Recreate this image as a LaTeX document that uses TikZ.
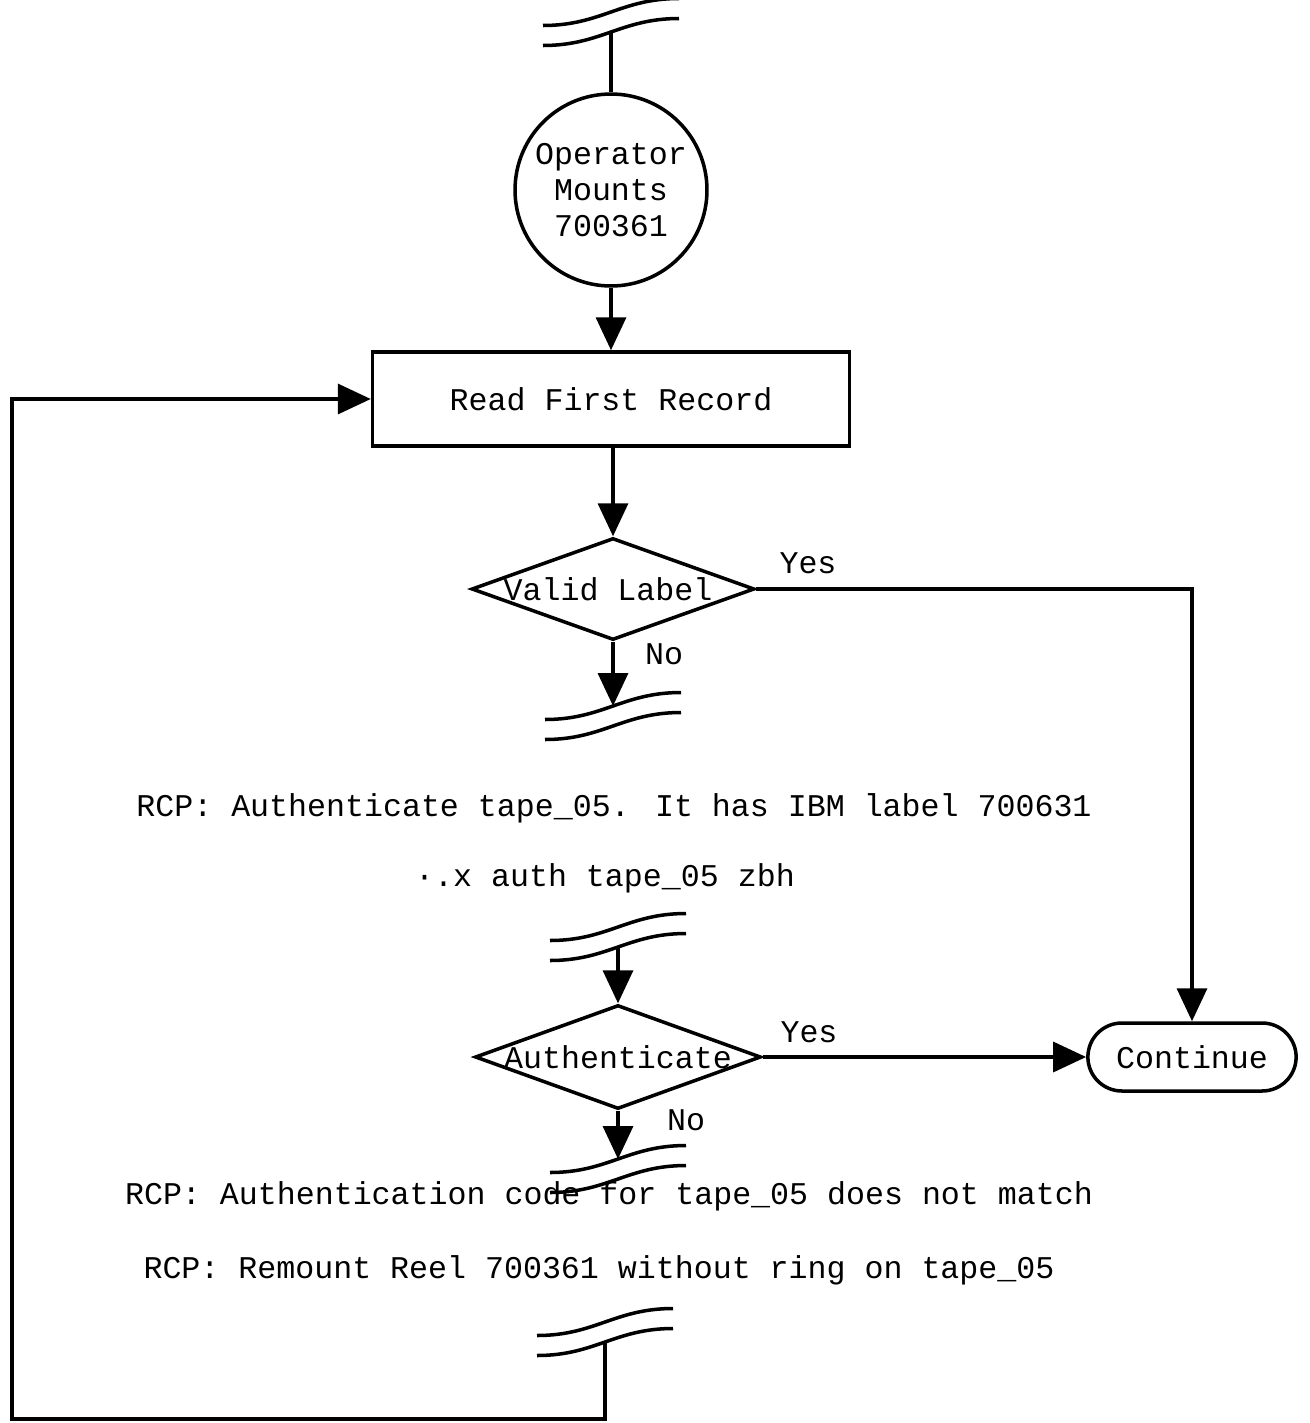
\documentclass[tikz,border=0pt]{standalone}
\usepackage{fontspec}
\newfontfamily\tapefont{Liberation Mono}
\usetikzlibrary{arrows.meta,shapes.geometric,shapes.misc}

\begin{document}
\begin{tikzpicture}[x=0.02cm, y=-0.02cm, line width=2pt,
		every node/.style={font=\tapefont\fontsize{18}{20.5}\selectfont},
		flow/.style={-{Triangle[length=0.66cm,width=0.6cm]}},
		startnode/.style={draw, circle, minimum size=3.84cm, inner sep=0pt, align=center},
		procbox/.style={draw, rectangle, minimum width=9.54cm, minimum height=1.88cm},
		decision/.style={draw, diamond, inner sep=0pt},
		endbox/.style={draw, rounded rectangle, minimum width=4.4cm, minimum height=1.36cm},
		pics/tapebreak/.style={code={
				\draw (-68,3.5) .. controls (-10,3.5) and (10,-23.5) .. (68,-23.5);
				\draw (-68,23.5) .. controls (-10,23.5) and (10,-3.5) .. (68,-3.5);
				\coordinate (-up) at (0,-10);
				\coordinate (-lo) at (0,10);
		}}]
			%%%%% START %%%%%
			
			\useasboundingbox (0,0) rectangle (1309,1423);
			
			\pic (brka) at (611,22) {tapebreak};
			\node[startnode] (opr) at (611,190) {Operator\\Mounts\\700361};
			\draw (brka-lo) -- (opr.north);
			
			\node[procbox] (rfr) at (611,399) {\raisebox{-0.2cm}{Read First Record}};
			\draw[flow] (opr.south) -- (rfr.north);
			
			\node[decision, minimum width=5.66cm, minimum height=2.04cm] (vl) at (613,589) {\makebox[0pt]{\hspace{-0.2cm}Valid Label}};
			\draw[flow] (rfr.south -| vl.north) -- (vl.north);
			\node (yesa) at (808,563) {Yes};
			\node (noa) at (664,654) {No};
			
			\pic (brkb) at (613,716) {tapebreak};
			\draw[flow] (vl.south) -- (brkb-up);
			
			\node (msga) at (614,808) {RCP: Authenticate tape\_05. It has IBM label 700631};
			\node (msgb) at (605,878) {·.x auth tape\_05 zbh};
			
			\pic (brkc) at (618,937) {tapebreak};
			\node[decision, minimum width=5.72cm, minimum height=2.08cm] (au) at (618,1057) {\makebox[0pt]{Authenticate}};
			\draw[flow] (brkc-lo) -- (au.north);
			\node (yesb) at (809,1032) {Yes};
			\node (nob) at (686,1120) {No};
			
			\node[endbox] (cont) at (1192,1057) {Continue};
			\draw[flow] (vl.east) -| (cont.north);
			\draw[flow] (au.east) -- (cont.west);
			
			\pic (brkd) at (618,1169) {tapebreak};
			\draw[flow] (au.south) -- (brkd-up);
			
			\node (msgc) at (609,1196) {RCP: Authentication code for tape\_05 does not match};
			\node (msgd) at (599,1270) {RCP: Remount Reel 700361 without ring on tape\_05};
			
			\pic (brke) at (605,1332) {tapebreak};
			\coordinate (loopbl) at (12,1419);
			\draw[flow] (brke-lo) |- (loopbl) |- (rfr.west);
			
			%%%%% END %%%%%
\end{tikzpicture}
\end{document}
